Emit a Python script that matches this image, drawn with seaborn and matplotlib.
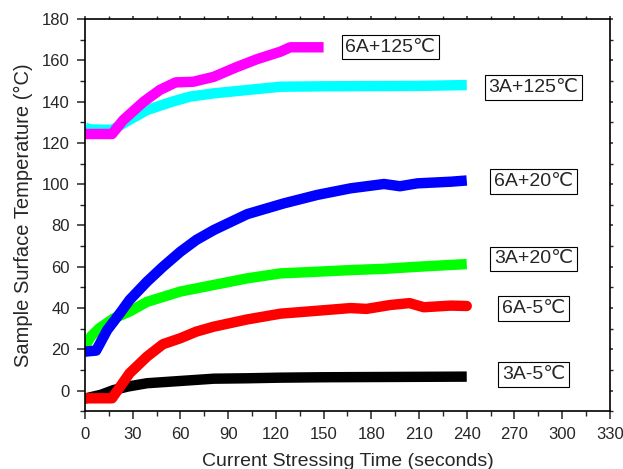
import pandas as pd
import numpy as np
import matplotlib
matplotlib.use('Agg')
import matplotlib.pyplot as plt
import seaborn as sns

t_3a_m5 = [0, 10, 18, 27, 39, 60, 81, 102, 123, 150, 180, 210, 240]
v_3a_m5 = [-3.8, -2.0, 0.3, 2.0, 3.6, 4.7, 5.8, 6.0, 6.3, 6.5, 6.6, 6.7, 6.8]

t_6a_m5 = [0, 17, 28, 39, 49, 60, 70, 81, 102, 123, 146, 167, 177, 192, 204, 213, 230, 240]
v_6a_m5 = [-3.7, -3.7, 8.4, 16.5, 22.5, 25.4, 28.6, 31.0, 34.5, 37.3, 38.7, 40.0, 39.6, 41.5, 42.4, 40.4, 41.2, 41.0]

t_3a_20 = [0, 4, 9, 18, 28, 39, 60, 81, 102, 123, 146, 167, 188, 209, 230, 240]
v_3a_20 = [21.5, 26.5, 30.2, 35.0, 38.3, 43.0, 48.0, 51.2, 54.4, 56.8, 57.6, 58.4, 59.0, 60.0, 60.9, 61.3]

t_6a_20 = [0, 7, 14, 22, 28, 39, 49, 60, 70, 81, 102, 125, 146, 167, 188, 198, 209, 230, 240]
v_6a_20 = [18.9, 19.4, 29.4, 37.5, 43.9, 52.8, 60.0, 67.3, 73.0, 77.8, 85.5, 90.7, 94.8, 98.0, 100.1, 99.0, 100.4, 101.2, 101.8]

t_3a_125 = [0, 3, 17, 26, 39, 55, 66, 81, 102, 123, 150, 180, 210, 240]
v_3a_125 = [127.5, 126.5, 126.3, 130.3, 135.9, 140.0, 142.4, 144.0, 145.6, 147.2, 147.4, 147.5, 147.6, 148.0]

t_6a_125 = [0, 17, 24, 37, 47, 57, 68, 81, 95, 108, 123, 129, 150]
v_6a_125 = [124.3, 124.3, 131.0, 140.0, 145.6, 149.3, 149.6, 152.0, 156.6, 160.5, 164.2, 166.3, 166.3]

names = ['3A-5℃', '6A-5℃', '3A+20℃', '6A+20℃', '3A+125℃', '6A+125℃']
colors = ['#000000', '#ff0000', '#00ff00', '#0000ff', '#00ffff', '#ff00ff']
label_x = [282, 282, 282, 282, 282, 192]
label_y = [7.7, 39.9, 63.8, 101.3, 147, 166.4]

times = [t_3a_m5, t_6a_m5, t_3a_20, t_6a_20, t_3a_125, t_6a_125]
temps = [v_3a_m5, v_6a_m5, v_3a_20, v_6a_20, v_3a_125, v_6a_125]

frames = []
for n, t, v in zip(names, times, temps):
    frames.append(pd.DataFrame({'time': t, 'temp': v, 'series': n}))
df = pd.concat(frames, ignore_index=True)

sns.set_style('ticks')
plt.rcParams['font.family'] = ['Liberation Sans', 'DejaVu Sans']

fig = plt.figure(figsize=(6.23, 4.69), dpi=100)
ax = fig.add_axes([0.1364, 0.123, 0.8426, 0.8365])

for n, c in zip(names, colors):
    sub = df[df['series'] == n]
    cap = 'round' if n == '6A-5℃' else 'butt'
    sns.lineplot(data=sub, x='time', y='temp', color=c, linewidth=7.5,
                 sort=False, ax=ax, legend=False, solid_capstyle=cap)

for n, lx, ly in zip(names, label_x, label_y):
    ax.text(lx, ly, n, fontsize=14, ha='center', va='center',
            bbox=dict(boxstyle='square,pad=0.2', fc='white', ec='black', lw=0.8))

ax.set_xlim(0, 330)
ax.set_ylim(-10, 180)
ax.set_xticks(np.arange(0, 331, 30))
ax.set_xticks(np.arange(0, 331, 15), minor=True)
ax.set_yticks(np.arange(0, 181, 20))
ax.set_yticks(np.arange(-10, 181, 10), minor=True)

ax.tick_params(which='major', direction='out', length=6, width=1.1, labelsize=12, pad=5)
ax.tick_params(which='minor', direction='out', length=3.5, width=1.0)
ax.tick_params(which='both', top=True, right=True)
for tk in ax.xaxis.get_major_ticks() + ax.xaxis.get_minor_ticks():
    tk.tick2line.set_markersize(2)
for tk in ax.yaxis.get_major_ticks() + ax.yaxis.get_minor_ticks():
    tk.tick2line.set_markersize(2)

for s in ax.spines.values():
    s.set_linewidth(1.2)
    s.set_color('black')

ax.set_xlabel('Current Stressing Time (seconds)', fontsize=14, labelpad=8)
ax.set_ylabel('Sample Surface Temperature (°C)', fontsize=14.5, labelpad=6)

fig.savefig('out.png', dpi=100)
